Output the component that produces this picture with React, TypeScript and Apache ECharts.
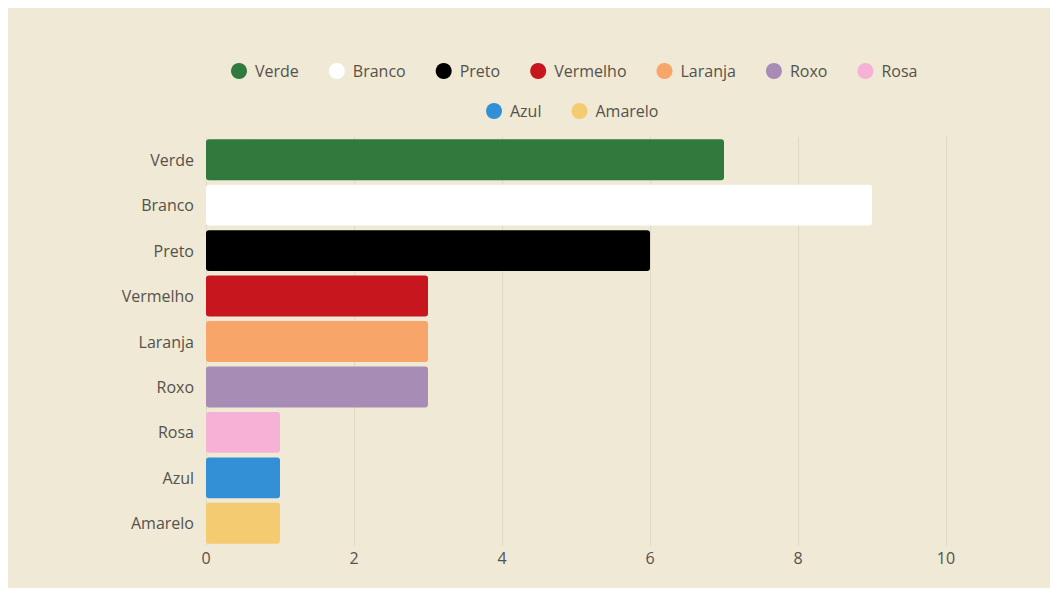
import React, { useEffect, useRef } from "react";
import * as echarts from "echarts";

const categories = ["Verde", "Branco", "Preto", "Vermelho", "Laranja", "Roxo", "Rosa", "Azul", "Amarelo"];
const values = [7, 9, 6, 3, 3, 3, 1, 1, 1];
const colors = ["#2f7a3c", "#ffffff", "#000000", "#c8161e", "#f8a56a", "#a78cb6", "#f5b2d6", "#3490d6", "#f5cb72"];
const xTicks = [0, 2, 4, 6, 8, 10];

const FONT = "'Open Sans', sans-serif";
const TEXT = "#55524b";

export default function App() {
  const ref = useRef<HTMLDivElement>(null);
  useEffect(() => {
    if (!ref.current) return;
    const chart = echarts.init(ref.current, undefined, { renderer: "svg" });
    const series = categories.map((name, i) => ({
      name,
      type: "bar",
      stack: "all",
      barWidth: "90%",
      itemStyle: { color: colors[i], borderRadius: 3 },
      data: categories.map((_, j) => (j === i ? values[i] : "-")),
    }));
    const legendBase = {
      orient: "horizontal",
      icon: "circle",
      itemWidth: 16,
      itemHeight: 16,
      itemGap: 30,
      textStyle: { fontFamily: FONT, fontSize: 16, color: TEXT, padding: [0, 0, 0, 3] },
    };
    chart.setOption({
      animation: false,
      backgroundColor: "#efe9d5",
      textStyle: { fontFamily: FONT },
      legend: [
        { ...legendBase, left: 218, top: 50, data: categories.slice(0, 7) },
        { ...legendBase, left: 473, top: 90, data: categories.slice(7) },
      ],
      grid: { left: 198, right: 104, top: 129, bottom: 42 },
      xAxis: {
        type: "value",
        min: xTicks[0],
        max: xTicks[xTicks.length - 1],
        interval: 2,
        axisLine: { show: false },
        axisTick: { show: false },
        axisLabel: { color: TEXT, fontFamily: FONT, fontSize: 16, margin: 4 },
        splitLine: { show: true, lineStyle: { color: "#e0d9c5", width: 1 } },
      },
      yAxis: {
        type: "category",
        inverse: true,
        data: categories,
        axisLine: { show: false },
        axisTick: { show: false },
        axisLabel: { color: TEXT, fontFamily: FONT, fontSize: 16, margin: 12 },
      },
      series,
    });
    return () => chart.dispose();
  }, []);
  return <div ref={ref} style={{ width: 1042, height: 580 }} />;
}
